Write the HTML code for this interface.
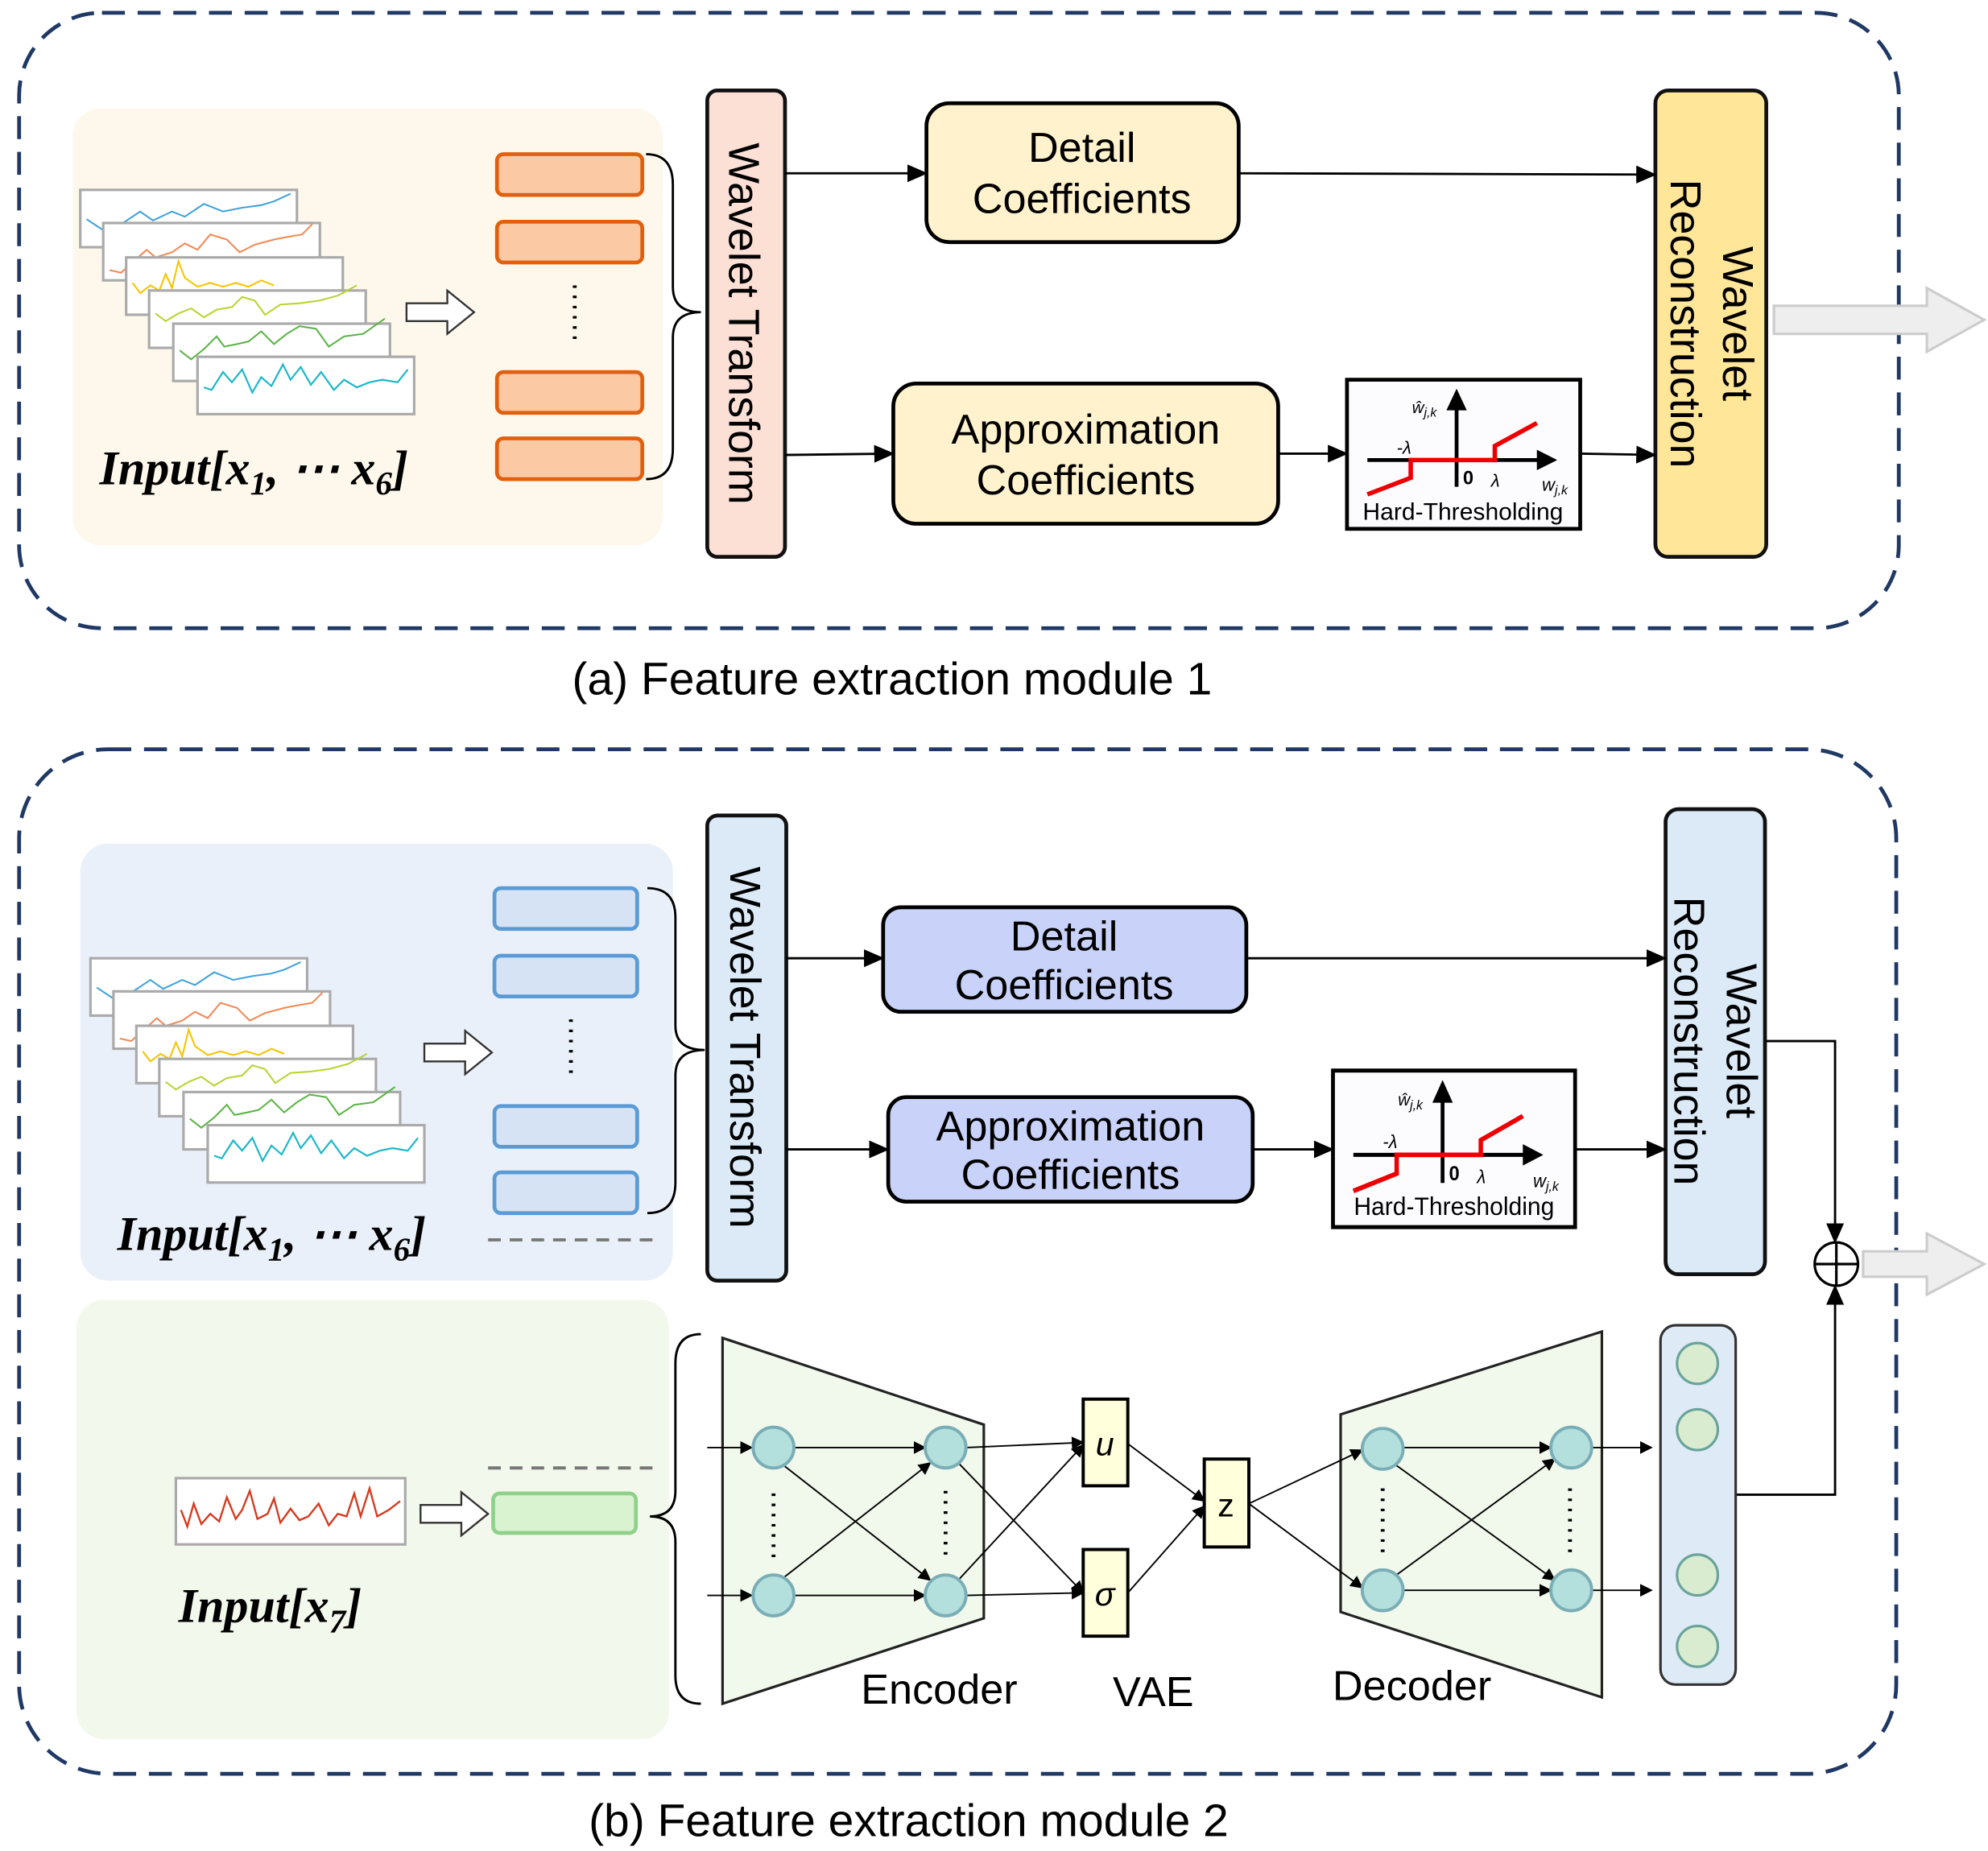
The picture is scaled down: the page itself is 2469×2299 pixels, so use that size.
<!DOCTYPE html>
<html><head><meta charset="utf-8"><style>
html,body{margin:0;padding:0;background:#fff;}
svg{display:block;}
text{font-family:"Liberation Sans","DejaVu Sans",sans-serif;}
.m{font-family:"Liberation Serif","DejaVu Serif",serif;font-style:italic;font-weight:bold;}
</style></head><body>
<svg width="2469" height="2299" viewBox="0 0 1560 1452.6" preserveAspectRatio="none" xmlns="http://www.w3.org/2000/svg">
<defs>
<marker id="ah" markerWidth="10" markerHeight="10" refX="9" refY="5" orient="auto" markerUnits="userSpaceOnUse" viewBox="0 0 10 10"><path d="M0,0 L10,5 L0,10 z" fill="#000"/></marker>
<marker id="as" markerWidth="16" markerHeight="16" refX="15" refY="8" orient="auto" markerUnits="userSpaceOnUse" viewBox="0 0 16 16"><path d="M0,1 L16,8 L0,15 z" fill="#000"/></marker>
</defs>

<!-- Panel a -->
<rect x="15" y="10" width="1475" height="483" rx="65" fill="none" stroke="#1f3864" stroke-width="3" stroke-dasharray="18,10"/>
<rect x="57" y="85" width="463" height="343" rx="22" fill="#fef8ec"/>
<g id="charts1">
<rect x="63" y="149" width="170" height="45" fill="#fff" stroke="#aaa" stroke-width="2"/>
<polyline points="68,172 80,180 95,176 110,166 120,173 135,166 145,170 160,160 175,166 190,163 205,161 215,158 228,152" fill="none" stroke="#3fa2dc" stroke-width="1.3"/>
<rect x="81" y="175" width="170" height="45" fill="#fff" stroke="#aaa" stroke-width="2"/>
<polyline points="86,212 95,214 105,205 115,196 122,202 135,198 145,191 155,196 165,184 178,188 188,198 200,192 215,188 225,186 237,184 245,176" fill="none" stroke="#f08a55" stroke-width="1.3"/>
<rect x="99" y="202" width="170" height="45" fill="#fff" stroke="#aaa" stroke-width="2"/>
<polyline points="104,222 110,230 118,224 125,228 130,215 135,226 140,205 145,218 155,225 165,222 175,225 185,222 195,225 205,220 215,224" fill="none" stroke="#f7c400" stroke-width="1.3"/>
<rect x="117" y="228" width="170" height="45" fill="#fff" stroke="#aaa" stroke-width="2"/>
<polyline points="122,246 130,252 140,246 150,242 160,249 170,243 182,241 190,233 200,236 208,247 220,239 235,238 250,236 265,232 280,224" fill="none" stroke="#b8d432" stroke-width="1.3"/>
<rect x="136" y="254" width="170" height="45" fill="#fff" stroke="#aaa" stroke-width="2"/>
<polyline points="141,275 150,282 160,274 170,264 176,272 186,270 195,268 205,260 215,270 225,262 235,256 248,258 258,272 270,264 285,262 302,250" fill="none" stroke="#5bb446" stroke-width="1.3"/>
<rect x="155" y="280" width="170" height="45" fill="#fff" stroke="#aaa" stroke-width="2"/>
<polyline points="160,304 166,306 175,292 182,300 190,290 198,308 205,296 213,303 222,286 228,298 236,288 244,302 252,292 262,306 270,298 280,304 290,300 300,298 312,300 320,290" fill="none" stroke="#1db8c8" stroke-width="1.4"/>
</g>
<path d="M319,238 h32 v-10 l21,17 l-21,17 v-10 h-32 z" fill="#fff" stroke="#333" stroke-width="1.5"/>
<text x="78" y="380" class="m" font-size="38">Input[x<tspan font-size="26" dy="8">1</tspan><tspan dy="-8">, ⋯ x</tspan><tspan font-size="26" dy="8">6</tspan><tspan dy="-8">]</tspan></text>
<g fill="#fcc9a5" stroke="#e0600f" stroke-width="3">
<rect x="390" y="121" width="114" height="32" rx="5"/><rect x="390" y="174" width="114" height="32" rx="5"/>
<rect x="390" y="292" width="114" height="32" rx="5"/><rect x="390" y="344" width="114" height="32" rx="5"/></g>
<line x1="451" y1="224" x2="451" y2="272" stroke="#000" stroke-width="3" stroke-dasharray="2,6"/>
<path d="M507,121 Q528,121 528,145 L528,225 Q528,245 550,245 Q528,245 528,265 L528,352 Q528,376 507,376" fill="none" stroke="#000" stroke-width="1.8"/>
<rect x="555" y="71" width="61" height="366" rx="8" fill="#fce0d6" stroke="#111" stroke-width="3"/>
<text transform="translate(572,254) rotate(90)" text-anchor="middle" font-size="34">Wavelet Transform</text>
<rect x="727" y="81" width="245" height="109" rx="18" fill="#fff2cc" stroke="#000" stroke-width="3"/>
<text x="849" y="127" text-anchor="middle" font-size="33">Detail</text>
<text x="849" y="167" text-anchor="middle" font-size="33">Coefficients</text>
<rect x="701" y="301" width="302" height="110" rx="18" fill="#fff2cc" stroke="#000" stroke-width="3"/>
<text x="852" y="348" text-anchor="middle" font-size="33">Approximation</text>
<text x="852" y="388" text-anchor="middle" font-size="33">Coefficients</text>
<rect x="1299" y="71" width="87" height="366" rx="10" fill="#ffe699" stroke="#111" stroke-width="3"/>
<text transform="translate(1352,254) rotate(90)" text-anchor="middle" font-size="34">Wavelet</text>
<text transform="translate(1311,254) rotate(90)" text-anchor="middle" font-size="34">Reconstruction</text>
<g id="ht1">
<rect x="1057" y="298" width="183" height="117" fill="#fcfcff" stroke="#000" stroke-width="3"/>
<line x1="1073" y1="361" x2="1212" y2="361" stroke="#000" stroke-width="3"/><path d="M1206,353 L1222,361 L1206,369 z"/>
<line x1="1143" y1="382" x2="1143" y2="318" stroke="#000" stroke-width="3"/><path d="M1135,322 L1143,305 L1151,322 z"/>
<polyline points="1073,388 1107,375 1107,361 1173,361 1173,350 1206,332" fill="none" stroke="#e00" stroke-width="3.5"/>
<text x="1148" y="380" font-size="15" font-weight="bold">0</text>
<text x="1170" y="382" font-size="14" font-style="italic" font-family="Liberation Serif">λ</text>
<text x="1096" y="356" font-size="14" font-style="italic" font-family="Liberation Serif">-λ</text>
<text x="1108" y="324" font-size="13" font-style="italic" font-family="Liberation Serif">ŵ<tspan font-size="10" dy="3">j,k</tspan></text>
<text x="1210" y="385" font-size="14" font-style="italic" font-family="Liberation Serif">w<tspan font-size="10" dy="3">j,k</tspan></text>
<text x="1148" y="408" text-anchor="middle" font-size="19">Hard-Thresholding</text>
</g>
<g stroke="#000" stroke-width="1.8" marker-end="url(#as)">
<line x1="616" y1="136" x2="727" y2="136"/><line x1="972" y1="136" x2="1299" y2="137"/>
<line x1="616" y1="357" x2="701" y2="356"/><line x1="1003" y1="356" x2="1057" y2="356"/><line x1="1240" y1="356" x2="1299" y2="357"/>
</g>
<path d="M1392,240 h120 v-14 l45,25 l-45,25 v-14 h-120 z" fill="#eee" stroke="#ccc" stroke-width="2"/>
<text x="700" y="545" text-anchor="middle" font-size="36">(a) Feature extraction module 1</text>

<!-- Panel b -->
<rect x="15" y="588" width="1473" height="804" rx="70" fill="none" stroke="#1f3864" stroke-width="3" stroke-dasharray="18,10"/>
<rect x="63" y="662" width="465" height="343" rx="22" fill="#eaf0f9"/>
<use href="#charts1" transform="translate(8,603)"/>
<path d="M333,819 h32 v-10 l21,17 l-21,17 v-10 h-32 z" fill="#fff" stroke="#333" stroke-width="1.5"/>
<text x="92" y="981" class="m" font-size="38">Input[x<tspan font-size="26" dy="8">1</tspan><tspan dy="-8">, ⋯ x</tspan><tspan font-size="26" dy="8">6</tspan><tspan dy="-8">]</tspan></text>
<g fill="#d6e3f5" stroke="#5b9bd5" stroke-width="3">
<rect x="388" y="697" width="112" height="32" rx="5"/><rect x="388" y="750" width="112" height="32" rx="5"/>
<rect x="388" y="868" width="112" height="32" rx="5"/><rect x="388" y="920" width="112" height="32" rx="5"/></g>
<line x1="448" y1="800" x2="448" y2="848" stroke="#000" stroke-width="3" stroke-dasharray="2,6"/>
<line x1="383" y1="973" x2="513" y2="973" stroke="#777" stroke-width="2.5" stroke-dasharray="10,7"/>
<path d="M508,697 Q530,697 530,720 L530,805 Q530,824 553,824 Q530,824 530,844 L530,928 Q530,952 508,952" fill="none" stroke="#000" stroke-width="1.8"/>
<rect x="555" y="640" width="62" height="365" rx="8" fill="#dbeaf6" stroke="#111" stroke-width="3"/>
<text transform="translate(573,822) rotate(90)" text-anchor="middle" font-size="34">Wavelet Transform</text>
<rect x="693" y="712" width="285" height="82" rx="14" fill="#c9d3f9" stroke="#000" stroke-width="3"/>
<text x="835" y="746" text-anchor="middle" font-size="33">Detail</text>
<text x="835" y="784" text-anchor="middle" font-size="33">Coefficients</text>
<rect x="697" y="861" width="286" height="82" rx="14" fill="#c9d3f9" stroke="#000" stroke-width="3"/>
<text x="840" y="895" text-anchor="middle" font-size="33">Approximation</text>
<text x="840" y="933" text-anchor="middle" font-size="33">Coefficients</text>
<rect x="1307" y="635" width="78" height="365" rx="10" fill="#dbeaf6" stroke="#111" stroke-width="3"/>
<text transform="translate(1355,817) rotate(90)" text-anchor="middle" font-size="34">Wavelet</text>
<text transform="translate(1314,817) rotate(90)" text-anchor="middle" font-size="34">Reconstruction</text>
<g transform="translate(-11,543) scale(1,1.05) translate(0,-15)">
<rect x="1057" y="298" width="190" height="117" fill="#fcfcff" stroke="#000" stroke-width="3"/>
<line x1="1073" y1="361" x2="1212" y2="361" stroke="#000" stroke-width="3"/><path d="M1206,353 L1222,361 L1206,369 z"/>
<line x1="1143" y1="382" x2="1143" y2="318" stroke="#000" stroke-width="3"/><path d="M1135,322 L1143,305 L1151,322 z"/>
<polyline points="1073,388 1107,375 1107,361 1173,361 1173,350 1206,332" fill="none" stroke="#e00" stroke-width="3.5"/>
<text x="1148" y="380" font-size="15" font-weight="bold">0</text>
<text x="1170" y="382" font-size="14" font-style="italic" font-family="Liberation Serif">λ</text>
<text x="1096" y="356" font-size="14" font-style="italic" font-family="Liberation Serif">-λ</text>
<text x="1108" y="324" font-size="13" font-style="italic" font-family="Liberation Serif">ŵ<tspan font-size="10" dy="3">j,k</tspan></text>
<text x="1214" y="385" font-size="14" font-style="italic" font-family="Liberation Serif">w<tspan font-size="10" dy="3">j,k</tspan></text>
<text x="1152" y="406" text-anchor="middle" font-size="19">Hard-Thresholding</text>
</g>
<g stroke="#000" stroke-width="1.8" marker-end="url(#as)">
<line x1="617" y1="752" x2="693" y2="752"/><line x1="978" y1="752" x2="1307" y2="752"/>
<line x1="617" y1="902" x2="697" y2="902"/><line x1="983" y1="902" x2="1046" y2="902"/><line x1="1237" y1="902" x2="1307" y2="902"/>
<polyline points="1386,817 1440,817 1440,975" fill="none"/>
<polyline points="1362,1173 1440,1173 1440,1009" fill="none"/>
</g>
<circle cx="1441" cy="992" r="17" fill="#fff" stroke="#000" stroke-width="2"/>
<line x1="1424" y1="992" x2="1458" y2="992" stroke="#000" stroke-width="2"/><line x1="1441" y1="975" x2="1441" y2="1009" stroke="#000" stroke-width="2"/>
<path d="M1462,982 h50 v-14 l45,24 l-45,24 v-14 h-50 z" fill="#eee" stroke="#ccc" stroke-width="2"/>

<rect x="60" y="1020" width="465" height="345" rx="22" fill="#f2f8ec"/>
<rect x="138" y="1160" width="180" height="52" fill="#fff" stroke="#aaa" stroke-width="2"/>
<polyline points="142,1185 147,1198 152,1180 158,1196 165,1188 172,1194 178,1175 185,1192 190,1185 196,1170 202,1192 210,1188 215,1176 220,1195 228,1184 235,1193 242,1190 250,1180 258,1197 265,1188 272,1190 278,1172 283,1190 290,1168 296,1190 305,1185 314,1178" fill="none" stroke="#d63a1f" stroke-width="1.5"/>
<path d="M330,1181 h32 v-10 l21,17 l-21,17 v-10 h-32 z" fill="#fff" stroke="#333" stroke-width="1.5"/>
<line x1="383" y1="1152" x2="513" y2="1152" stroke="#777" stroke-width="2.5" stroke-dasharray="10,7"/>
<rect x="387" y="1172" width="112" height="31" rx="5" fill="#d9f2d0" stroke="#8fd18a" stroke-width="3"/>
<text x="140" y="1273" class="m" font-size="38">Input[x<tspan font-size="26" dy="8">7</tspan><tspan dy="-8">]</tspan></text>
<path d="M550,1047 Q530,1047 530,1070 L530,1170 Q530,1190 510,1190 Q530,1190 530,1210 L530,1315 Q530,1337 550,1337" fill="none" stroke="#000" stroke-width="1.8"/>

<polygon points="567,1050 772,1118 772,1270 567,1337" fill="#f1f8ec" stroke="#222" stroke-width="2"/>
<polygon points="1052,1110 1257,1045 1257,1332 1052,1265" fill="#f1f8ec" stroke="#222" stroke-width="2"/>
<g stroke="#000" stroke-width="1.2" fill="none" marker-end="url(#ah)">
<line x1="555" y1="1136" x2="590" y2="1136"/><line x1="555" y1="1252" x2="590" y2="1252"/>
<line x1="623" y1="1136" x2="726" y2="1136"/><line x1="623" y1="1252" x2="726" y2="1252"/>
<line x1="615" y1="1150" x2="730" y2="1240"/><line x1="615" y1="1238" x2="730" y2="1148"/>
<line x1="758" y1="1136" x2="850" y2="1132"/><line x1="758" y1="1252" x2="850" y2="1250"/>
<line x1="752" y1="1148" x2="850" y2="1250"/><line x1="752" y1="1240" x2="850" y2="1134"/>
<line x1="885" y1="1133" x2="945" y2="1178"/><line x1="885" y1="1250" x2="945" y2="1182"/>
<line x1="980" y1="1180" x2="1069" y2="1138"/><line x1="980" y1="1180" x2="1069" y2="1246"/>
<line x1="1101" y1="1136" x2="1217" y2="1136"/><line x1="1101" y1="1248" x2="1217" y2="1248"/>
<line x1="1093" y1="1148" x2="1220" y2="1240"/><line x1="1093" y1="1238" x2="1220" y2="1145"/>
<line x1="1249" y1="1136" x2="1296" y2="1136"/><line x1="1249" y1="1248" x2="1296" y2="1248"/>
</g>
<g fill="#b3e0dc" stroke="#7aaeb6" stroke-width="2.5">
<ellipse cx="607" cy="1136" rx="16" ry="16"/><ellipse cx="607" cy="1252" rx="16" ry="16"/>
<ellipse cx="742" cy="1136" rx="16" ry="16"/><ellipse cx="742" cy="1252" rx="16" ry="16"/>
<ellipse cx="1085" cy="1137" rx="16" ry="16"/><ellipse cx="1085" cy="1248" rx="16" ry="16"/>
<ellipse cx="1233" cy="1136" rx="16" ry="16"/><ellipse cx="1233" cy="1248" rx="16" ry="16"/>
</g>
<g stroke="#000" stroke-width="3" stroke-dasharray="2,6">
<line x1="607" y1="1172" x2="607" y2="1222"/><line x1="742" y1="1170" x2="742" y2="1222"/>
<line x1="1085" y1="1168" x2="1085" y2="1220"/><line x1="1232" y1="1168" x2="1232" y2="1220"/>
<line x1="1332" y1="1150" x2="1332" y2="1205"/>
</g>
<rect x="850" y="1098" width="35" height="68" fill="#ffffdc" stroke="#000" stroke-width="2.5"/>
<text x="867" y="1142" text-anchor="middle" font-size="26" font-style="italic" font-family="Liberation Serif">u</text>
<rect x="850" y="1216" width="35" height="68" fill="#ffffdc" stroke="#000" stroke-width="2.5"/>
<text x="867" y="1260" text-anchor="middle" font-size="26" font-style="italic" font-family="Liberation Serif">σ</text>
<rect x="945" y="1145" width="35" height="69" fill="#ffffdc" stroke="#000" stroke-width="2.5"/>
<text x="962" y="1190" text-anchor="middle" font-size="26" font-family="Liberation Serif">z</text>
<rect x="1303" y="1040" width="59" height="282" rx="12" fill="#deebf7" stroke="#333" stroke-width="2"/>
<g fill="#d9ecd0" stroke="#6aa39a" stroke-width="2">
<circle cx="1332" cy="1070" r="16"/><circle cx="1332" cy="1122" r="16"/><circle cx="1332" cy="1236" r="16"/><circle cx="1332" cy="1292" r="16"/></g>
<text x="737" y="1337" text-anchor="middle" font-size="33">Encoder</text>
<text x="905" y="1339" text-anchor="middle" font-size="33">VAE</text>
<text x="1108" y="1334" text-anchor="middle" font-size="33">Decoder</text>
<text x="713" y="1441" text-anchor="middle" font-size="36">(b) Feature extraction module 2</text>
</svg>
</body></html>
